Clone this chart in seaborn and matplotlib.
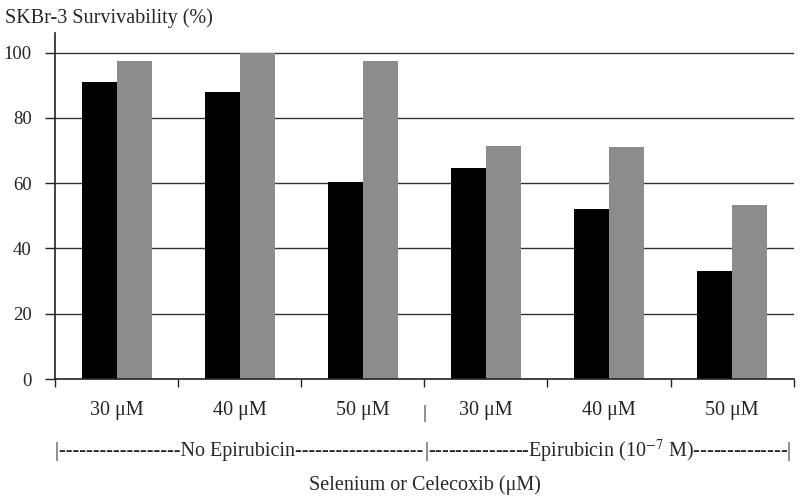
import matplotlib
matplotlib.use('Agg')
import matplotlib.pyplot as plt
import seaborn as sns
import pandas as pd
import numpy as np

# values
doses = ['30 μM', '40 μM', '50 μM', '30 μM', '40 μM', '50 μM']
groups = ['No Epirubicin'] * 3 + ['Epirubicin'] * 3
selenium = [91.0, 88.0, 60.5, 64.5, 52.0, 33.0]
celecoxib = [97.5, 100.0, 97.5, 71.5, 71.0, 53.3]
yticks = [0, 20, 40, 60, 80, 100]

keys = [f'{g} {d}' for g, d in zip(groups, doses)]
df = pd.DataFrame({
    'key': keys * 2,
    'drug': ['Selenium'] * 6 + ['Celecoxib'] * 6,
    'value': selenium + celecoxib,
})

sns.set_theme(style='white')
plt.rcParams['font.family'] = ['Liberation Serif', 'DejaVu Serif']
plt.rcParams['mathtext.fontset'] = 'stix'

fig = plt.figure(figsize=(8, 5), dpi=100)
ax = fig.add_axes([0.069, 0.242, 0.923, 0.692])

sns.barplot(data=df, x='key', y='value', hue='drug', order=keys,
            hue_order=['Selenium', 'Celecoxib'],
            palette=['#000000', '#8c8c8c'], width=0.57, gap=0,
            saturation=1, linewidth=0, legend=False, ax=ax)

ax.set_ylim(0, 106)
ax.set_xlim(-0.5, 5.5)
ax.set_yticks(yticks)
ax.set_xlabel('')
ax.set_ylabel('')
for y in yticks[1:]:
    ax.axhline(y, color='#333333', lw=1.0, zorder=0)
ax.set_axisbelow(True)

for s in ['top', 'right']:
    ax.spines[s].set_visible(False)
for s in ['left', 'bottom']:
    ax.spines[s].set_color('#222222')
    ax.spines[s].set_linewidth(1.2)

ax.tick_params(axis='y', direction='out', length=7, width=1.0, color='#222222',
               labelsize=13.5, pad=10, left=True)
ax.set_xticks(range(6))
ax.set_xticklabels(doses, fontsize=14.5)
ax.tick_params(axis='x', length=0, pad=16)
ax.set_xticks(np.arange(-0.5, 6, 1), minor=True)
ax.tick_params(axis='x', which='minor', direction='out', length=6, width=1.0,
               color='#222222', bottom=True)

# separator between the two groups in the tick-label row
ax.text(2.5, -0.1, '|', transform=ax.get_xaxis_transform(), ha='center',
        va='center', fontsize=14, color='#222222')

left_lbl = '|' + '-' * 18 + 'No Epirubicin' + '-' * 19
right_lbl = '|' + '-' * 15 + 'Epirubicin (10$^{-7}$ M)' + '-' * 14 + '|'
ax.text(-0.5, -0.21, left_lbl, transform=ax.get_xaxis_transform(),
        ha='left', va='center', fontsize=14.5)
ax.text(2.5, -0.21, right_lbl, transform=ax.get_xaxis_transform(),
        ha='left', va='center', fontsize=14.5)

fig.text(0.531, 0.03, 'Selenium or Celecoxib (μM)', ha='center', va='center',
         fontsize=14.5)
fig.text(0.006, 0.963, 'SKBr-3 Survivability (%)', ha='left', va='center',
         fontsize=14.5)

fig.savefig('out.png', dpi=100)
